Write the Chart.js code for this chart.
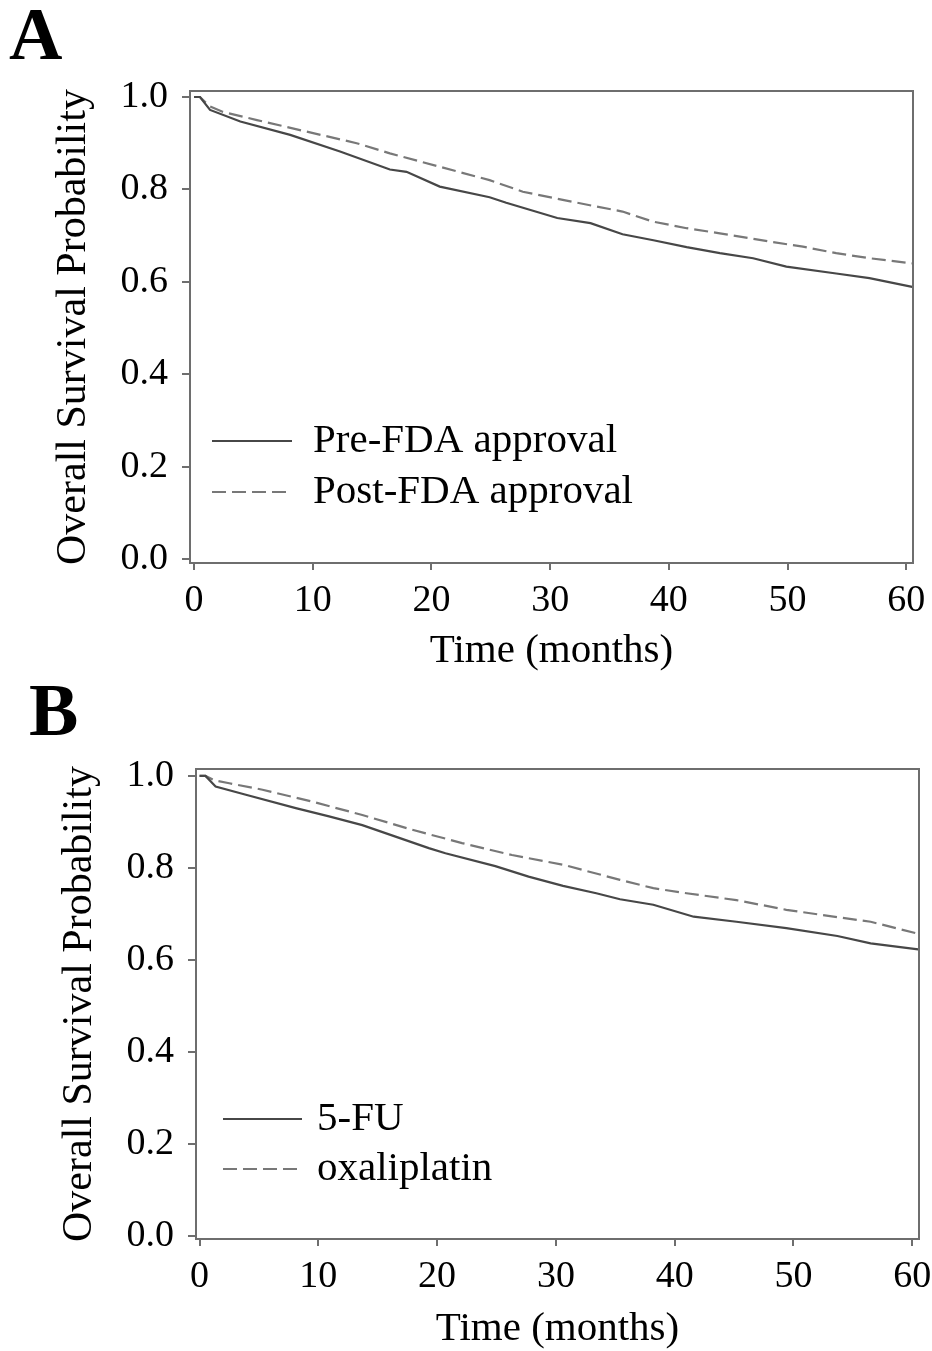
<!DOCTYPE html>
<html><head><meta charset="utf-8">
<script src="https://cdn.jsdelivr.net/npm/chart.js@4.4.1/dist/chart.umd.min.js"></script>
<style>
html,body{margin:0;padding:0;background:#fff;}
#wrap{position:relative;width:932px;height:1351px;overflow:hidden;background:#fff;}
canvas{position:absolute;left:0;}
#cA{top:0;}
#cB{top:680px;}
</style></head><body>
<div id="wrap">
<canvas id="cA" width="932" height="680"></canvas>
<canvas id="cB" width="932" height="671"></canvas>
</div>
<script>
// ---------- data ----------
const panelLetters = ['A', 'B'];
const xTicks = [0, 10, 20, 30, 40, 50, 60];
const yTicks = [0.0, 0.2, 0.4, 0.6, 0.8, 1.0];
const xTitle = 'Time (months)';
const yTitle = 'Overall Survival Probability';
const seriesNamesA = ['Pre-FDA approval', 'Post-FDA approval'];
const seriesNamesB = ['5-FU', 'oxaliplatin'];

const timeA_pre = [0, 0.5, 1.35, 3.9, 8.1, 12.3, 16.5, 17.9, 20.7, 24.9, 26.3, 30.6, 33.4, 36.1, 38.7, 41.5, 44.3, 47.1, 49.9, 54.1, 56.9, 60.5];
const survA_pre = [1, 1, 0.972, 0.947, 0.918, 0.882, 0.843, 0.838, 0.806, 0.783, 0.771, 0.738, 0.727, 0.703, 0.690, 0.675, 0.662, 0.651, 0.633, 0.618, 0.608, 0.589];

const timeA_post = [0, 0.5, 1.3, 2.4, 5.3, 9.5, 13.7, 16.5, 20.7, 24.9, 27.7, 31.9, 36.1, 38.7, 41.5, 44.3, 48.5, 51.3, 54.1, 56.9, 60.5];
const survA_post = [1, 1, 0.980, 0.968, 0.950, 0.925, 0.900, 0.878, 0.849, 0.820, 0.795, 0.773, 0.752, 0.730, 0.716, 0.705, 0.687, 0.676, 0.662, 0.651, 0.640];

const timeB_5fu = [0, 0.5, 1.35, 3.9, 8.1, 10.9, 13.7, 16.5, 19.3, 20.7, 24.9, 27.7, 30.6, 33.4, 35.4, 38.2, 41.6, 45.2, 49.4, 53.7, 56.5, 60.5];
const survB_5fu = [1, 1, 0.977, 0.959, 0.930, 0.912, 0.893, 0.868, 0.843, 0.832, 0.804, 0.781, 0.761, 0.745, 0.732, 0.720, 0.694, 0.683, 0.669, 0.652, 0.636, 0.623];

const timeB_oxa = [0, 0.5, 1.3, 2.5, 5.3, 9.5, 13.7, 17.9, 22.1, 26.3, 30.6, 35.4, 38.2, 41.0, 45.2, 49.4, 53.7, 56.5, 60.5];
const survB_oxa = [1, 1, 0.990, 0.984, 0.970, 0.944, 0.915, 0.883, 0.854, 0.828, 0.807, 0.774, 0.756, 0.745, 0.730, 0.709, 0.693, 0.683, 0.657];

// ---------- styling ----------
const SERIF = '"Liberation Serif", "Times New Roman", serif';
const AXIS_COLOR = '#6e6e6e';
const SOLID_COLOR = '#474747';
const DASH_COLOR = '#787878';

function pts(t, s) { return t.map((v, i) => ({x: v, y: s[i]})); }

const decorPlugin = {
  id: 'decor',
  afterDraw(chart, args, o) {
    const {ctx, chartArea: a} = chart;
    ctx.save();
    ctx.strokeStyle = AXIS_COLOR;
    ctx.lineWidth = 2;
    ctx.setLineDash([]);
    ctx.strokeRect(a.left, a.top, a.right - a.left, a.bottom - a.top);
    ctx.font = o.legendFont;
    ctx.textBaseline = 'middle';
    ctx.textAlign = 'left';
    chart.data.datasets.forEach((ds, i) => {
      const y = a.top + o.legendY0 + i * o.legendDY;
      ctx.strokeStyle = ds.borderColor;
      ctx.lineWidth = ds.borderWidth;
      ctx.setLineDash(ds.borderDash || []);
      ctx.beginPath();
      ctx.moveTo(a.left + o.lineX0, y);
      ctx.lineTo(a.left + o.lineX1, y);
      ctx.stroke();
      ctx.setLineDash([]);
      ctx.fillStyle = '#000';
      ctx.fillText(ds.label, a.left + o.textX, y);
    });
    ctx.font = o.letterFont;
    ctx.textBaseline = 'alphabetic';
    ctx.fillStyle = '#000';
    ctx.fillText(o.letter, o.letterX, o.letterY);
    ctx.restore();
  }
};

function makePanel(id, names, s1, s2, g) {
  return new Chart(document.getElementById(id), {
    type: 'line',
    data: {
      datasets: [
        {label: names[0], data: s1, borderColor: SOLID_COLOR, borderWidth: 2.2, pointRadius: 0, fill: false, tension: 0},
        {label: names[1], data: s2, borderColor: DASH_COLOR, borderWidth: 2.2, borderDash: [14, 6], pointRadius: 0, fill: false, tension: 0}
      ]
    },
    options: {
      responsive: false,
      animation: false,
      events: [],
      layout: {padding: {top: g.padTop, right: g.padRight, left: 0, bottom: 0}},
      plugins: {
        legend: {display: false},
        tooltip: {enabled: false},
        decor: {
          legendFont: '41px ' + SERIF, legendY0: g.legY0, legendDY: g.legDY,
          lineX0: g.lineX0, lineX1: g.lineX1, textX: g.textX,
          letterFont: 'bold 74px ' + SERIF, letter: g.letter, letterX: g.letterX, letterY: g.letterY
        }
      },
      scales: {
        x: {
          type: 'linear', min: g.xMin, max: g.xMax,
          afterBuildTicks: s => { s.ticks = xTicks.map(v => ({value: v})); },
          afterFit: s => { s.height = g.xAxisH; s.paddingLeft = 0; s.paddingRight = 0; },
          grid: {display: true, drawOnChartArea: false, drawTicks: true, tickLength: 7, color: AXIS_COLOR, lineWidth: 2},
          border: {display: true, color: AXIS_COLOR, width: 2},
          ticks: {color: '#000', font: {family: SERIF, size: 38}, padding: 8, maxRotation: 0, autoSkip: false, callback: v => String(v)},
          title: {display: true, text: xTitle, color: '#000', font: {family: SERIF, size: 41}, padding: {top: 0, bottom: g.xTitlePad}}
        },
        y: {
          type: 'linear', min: g.yMin, max: g.yMax,
          afterBuildTicks: s => { s.ticks = yTicks.map(v => ({value: v})); },
          afterFit: s => { s.width = g.yAxisW; s.paddingTop = 0; s.paddingBottom = 0; },
          grid: {display: true, drawOnChartArea: false, drawTicks: true, tickLength: 8, color: AXIS_COLOR, lineWidth: 2},
          border: {display: true, color: AXIS_COLOR, width: 2},
          ticks: {color: '#000', font: {family: SERIF, size: 38}, padding: 14, autoSkip: false, callback: v => Number(v).toFixed(1)},
          title: {display: true, text: yTitle, color: '#000', font: {family: SERIF, size: 42}, padding: {top: g.yTitlePad, bottom: 0}}
        }
      }
    },
    plugins: [decorPlugin]
  });
}

makePanel('cA', seriesNamesA, pts(timeA_pre, survA_pre), pts(timeA_post, survA_post), {
  padTop: 91, padRight: 19, yAxisW: 190, xAxisH: 117,
  xMin: -0.34, xMax: 60.57, yMin: -0.0087, yMax: 1.013,
  xTitlePad: 4, yTitlePad: 49,
  legY0: 350, legDY: 51, lineX0: 22, lineX1: 102, textX: 123,
  letter: panelLetters[0], letterX: 9, letterY: 59
});

makePanel('cB', seriesNamesB, pts(timeB_5fu, survB_5fu), pts(timeB_oxa, survB_oxa), {
  padTop: 89, padRight: 13, yAxisW: 196, xAxisH: 112,
  xMin: -0.3, xMax: 60.57, yMin: -0.0065, yMax: 1.015,
  xTitlePad: -3, yTitlePad: 55,
  legY0: 350, legDY: 50, lineX0: 27, lineX1: 106, textX: 121,
  letter: panelLetters[1], letterX: 29, letterY: 55
});
</script>
</body></html>
